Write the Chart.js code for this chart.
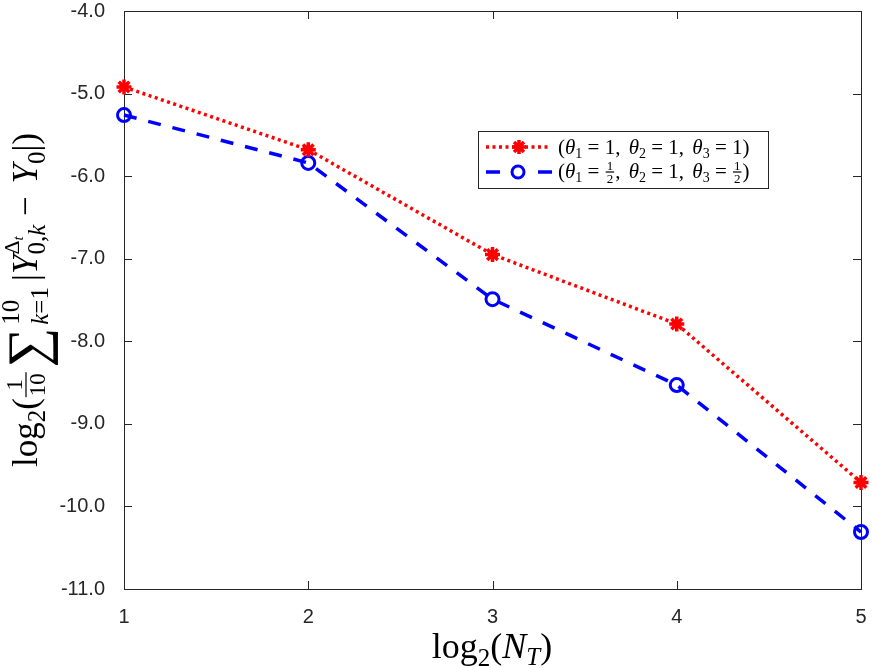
<!DOCTYPE html>
<html lang="en">
<head>
  <meta charset="UTF-8">
  <title>Convergence plot</title>
  <script src="https://cdn.jsdelivr.net/npm/chart.js"></script>
  <style>
    html, body { margin: 0; padding: 0; background: #fff; }
    #wrap { width: 872px; height: 668px; position: relative; }
  </style>
</head>
<body>
<div id="wrap"><canvas id="chart"></canvas></div>
<script>
  // values
  const logNT = [1, 2, 3, 4, 5];
  const errTheta111 = [-4.92, -5.68, -6.95, -7.79, -9.71];
  const errThetaHalf = [-5.26, -5.84, -7.49, -8.53, -10.31];
  const yMin = -11, yMax = -4;

  const AXIS = '#262626';
  const SERIF = '"Liberation Serif", "DejaVu Serif", serif';
  const F = (s, it) => (it ? 'italic ' : '') + s + 'px ' + SERIF;

  // tiny rich-text layout: plain runs, stacked sup/sub, fractions
  function run(ctx, items, x, y, draw) {
    let w = 0;
    for (const it of items) {
      if (it.frac) {
        ctx.font = F(it.s);
        const wn = ctx.measureText(it.frac[0]).width;
        const wd = ctx.measureText(it.frac[1]).width;
        const fw = Math.max(wn, wd) + 2;
        if (draw) {
          const cx = x + w + 1 + fw / 2;
          const ay = y - it.ax;
          ctx.textAlign = 'center';
          ctx.fillText(it.frac[0], cx, ay - it.s * 0.18);
          ctx.fillText(it.frac[1], cx, ay + it.s * 0.82);
          ctx.textAlign = 'left';
          ctx.fillRect(x + w + 1, ay - 0.6, fw, 1.2);
        }
        w += fw + 2;
      } else if (it.st) {
        const a = run(ctx, it.st[0], x + w, y, draw);
        const b = run(ctx, it.st[1], x + w, y, draw);
        w += Math.max(a, b);
      } else {
        ctx.font = F(it.s, it.i);
        if (draw) ctx.fillText(it.t, x + w, y - (it.dy || 0));
        w += ctx.measureText(it.t).width + (it.sp || 0);
      }
    }
    return w;
  }

  const xTitle = [
    {t: 'log', s: 36}, {t: '2', s: 25, dy: -8}, {t: '(', s: 36},
    {t: 'N', s: 36, i: true}, {t: 'T', s: 25, i: true, dy: -7}, {t: ')', s: 36}
  ];
  const yTitle = [
    {t: 'log', s: 35}, {t: '2', s: 25, dy: -8}, {t: '(', s: 35},
    {frac: ['1', '10'], s: 23, ax: 11}, {t: ' ', s: 14},
    {t: '\u2211', s: 56, dy: -9, sp: 3},
    {st: [[{t: '10', s: 25, dy: 18}],
          [{t: 'k', s: 25, i: true, dy: -11}, {t: '=1', s: 25, dy: -11}]]},
    {t: ' ', s: 24}, {t: '|', s: 35}, {t: 'Y', s: 35, i: true},
    {st: [[{t: '\u0394', s: 22, dy: 18}, {t: 't', s: 15, i: true, dy: 14}],
          [{t: '0,', s: 25, dy: -8}, {t: 'k', s: 25, i: true, dy: -8}]]},
    {t: ' \u2212 ', s: 35, sp: 4}, {t: 'Y', s: 35, i: true}, {t: '0', s: 25, dy: -8},
    {t: '|)', s: 35}
  ];
  const legendRows = [
    [{t: '(', s: 21}, {t: '\u03b8', s: 21, i: true}, {t: '1', s: 14, dy: -4}, {t: ' = 1, ', s: 21, sp: 3},
     {t: '\u03b8', s: 21, i: true}, {t: '2', s: 14, dy: -4}, {t: ' = 1, ', s: 21, sp: 3},
     {t: '\u03b8', s: 21, i: true}, {t: '3', s: 14, dy: -4}, {t: ' = 1)', s: 21}],
    [{t: '(', s: 21}, {t: '\u03b8', s: 21, i: true}, {t: '1', s: 14, dy: -4}, {t: ' = ', s: 21},
     {frac: ['1', '2'], s: 13, ax: 6}, {t: ', ', s: 21, sp: 3},
     {t: '\u03b8', s: 21, i: true}, {t: '2', s: 14, dy: -4}, {t: ' = 1, ', s: 21, sp: 3},
     {t: '\u03b8', s: 21, i: true}, {t: '3', s: 14, dy: -4}, {t: ' = ', s: 21},
     {frac: ['1', '2'], s: 13, ax: 6}, {t: ')', s: 21}]
  ];

  function star(ctx, x, y, r) {
    ctx.beginPath();
    for (let k = 0; k < 4; k++) {
      const a = k * Math.PI / 4;
      ctx.moveTo(x - r * Math.cos(a), y - r * Math.sin(a));
      ctx.lineTo(x + r * Math.cos(a), y + r * Math.sin(a));
    }
    ctx.stroke();
  }

  const boxPlugin = {
    id: 'box',
    beforeDatasetsDraw(chart) {
      const {ctx, chartArea: a, scales} = chart;
      ctx.save();
      ctx.strokeStyle = AXIS;
      ctx.lineWidth = 1;
      ctx.strokeRect(a.left + 0.5, a.top + 0.5, a.right - a.left, a.bottom - a.top);
      const tl = 8;
      ctx.beginPath();
      scales.x.ticks.forEach(t => {
        const px = Math.round(scales.x.getPixelForValue(t.value)) + 0.5;
        ctx.moveTo(px, a.bottom); ctx.lineTo(px, a.bottom - tl);
        ctx.moveTo(px, a.top); ctx.lineTo(px, a.top + tl);
      });
      scales.y.ticks.forEach(t => {
        const py = Math.round(scales.y.getPixelForValue(t.value)) + 0.5;
        ctx.moveTo(a.left, py); ctx.lineTo(a.left + tl, py);
        ctx.moveTo(a.right, py); ctx.lineTo(a.right - tl, py);
      });
      ctx.stroke();
      ctx.restore();
    },
    afterDraw(chart) {
      const ctx = chart.ctx;
      ctx.save();
      ctx.fillStyle = '#000';
      ctx.textAlign = 'left';
      ctx.textBaseline = 'alphabetic';
      // x title
      const wx = run(ctx, xTitle, 0, 0, false);
      run(ctx, xTitle, 492 - wx / 2, 658, true);
      // y title, rotated
      ctx.save();
      ctx.translate(37, 300);
      ctx.rotate(-Math.PI / 2);
      const wy = run(ctx, yTitle, 0, 0, false);
      run(ctx, yTitle, -wy / 2, 0, true);
      ctx.restore();

      // legend
      ctx.fillStyle = '#fff';
      ctx.fillRect(478.5, 131.5, 290, 57);
      ctx.strokeStyle = AXIS;
      ctx.lineWidth = 1;
      ctx.strokeRect(478.5, 131.5, 290, 57);
      // row 1
      ctx.strokeStyle = '#ff0000';
      ctx.lineWidth = 3.5;
      ctx.setLineDash([3, 3.5]);
      ctx.beginPath(); ctx.moveTo(486, 147); ctx.lineTo(551, 147); ctx.stroke();
      ctx.setLineDash([]);
      ctx.lineWidth = 3.5;
      star(ctx, 519, 147, 7);
      // row 2
      ctx.strokeStyle = '#0000ff';
      ctx.lineWidth = 3.5;
      ctx.setLineDash([14, 38]);
      ctx.beginPath(); ctx.moveTo(486, 172); ctx.lineTo(552, 172); ctx.stroke();
      ctx.setLineDash([]);
      ctx.lineWidth = 3;
      ctx.beginPath(); ctx.arc(518, 172, 6, 0, Math.PI * 2); ctx.stroke();
      ctx.fillStyle = '#000';
      run(ctx, legendRows[0], 558, 154, true);
      run(ctx, legendRows[1], 558, 178, true);
      ctx.restore();
    }
  };

  Chart.defaults.font.family = '"Liberation Sans", Arial, sans-serif';
  Chart.defaults.font.size = 20;
  Chart.defaults.color = AXIS;

  new Chart(document.getElementById('chart'), {
    type: 'line',
    data: {
      datasets: [{
        label: 'theta1 = 1, theta2 = 1, theta3 = 1',
        data: logNT.map((x, i) => ({x, y: errTheta111[i]})),
        borderColor: '#ff0000',
        backgroundColor: '#ff0000',
        borderWidth: 3.5,
        borderDash: [3, 3.5],
        pointStyle: 'star',
        pointRadius: 7.5,
        pointBorderWidth: 3.5,
        clip: false,
        tension: 0
      }, {
        label: 'theta1 = 1/2, theta2 = 1, theta3 = 1/2',
        data: logNT.map((x, i) => ({x, y: errThetaHalf[i]})),
        borderColor: '#0000ff',
        backgroundColor: 'rgba(0,0,0,0)',
        borderWidth: 3.5,
        borderDash: [13, 12],
        pointStyle: 'circle',
        pointRadius: 6.5,
        pointBorderWidth: 3,
        clip: false,
        tension: 0
      }]
    },
    options: {
      responsive: true,
      maintainAspectRatio: false,
      animation: false,
      layout: { padding: { top: 11, right: 11, left: 0, bottom: 0 } },
      plugins: { legend: { display: false }, tooltip: { enabled: false } },
      scales: {
        x: {
          type: 'linear',
          min: 1, max: 5,
          ticks: { stepSize: 1, padding: 16, callback: v => String(v) },
          grid: { display: false, drawTicks: false },
          border: { display: false },
          afterFit: s => { s.height = 79; s.paddingLeft = 0; s.paddingRight = 0; }
        },
        y: {
          min: yMin, max: yMax,
          ticks: { stepSize: 1, padding: 19, callback: v => v.toFixed(1) },
          grid: { display: false, drawTicks: false },
          border: { display: false },
          afterFit: s => { s.width = 124; s.paddingTop = 0; s.paddingBottom = 0; }
        }
      }
    },
    plugins: [boxPlugin]
  });
</script>
</body>
</html>
